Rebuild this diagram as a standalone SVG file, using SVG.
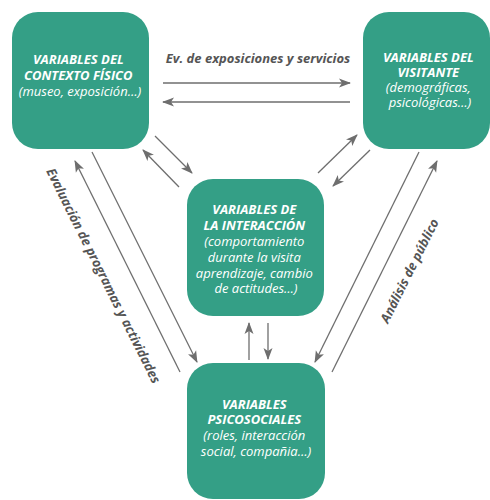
<svg xmlns="http://www.w3.org/2000/svg" width="490" height="500" viewBox="0 0 490 500">
  <defs>
    <marker id="arrow" markerUnits="userSpaceOnUse" markerWidth="12" markerHeight="10" viewBox="0 0 12 10" refX="11" refY="5" orient="auto">
      <path d="M0,0.5 L12,5 L0,9.5 L3,5 Z" fill="#6e6e6e"/>
    </marker>
    <style>
      .box { fill: #349f86; }
      .txt { font-family: "Open Sans", "Noto Sans", sans-serif; font-style: italic; font-size: 13px; fill: #ffffff; text-anchor: middle; }
      .b { font-weight: 700; }
      .r { font-weight: 400; }
      .conn { stroke: #6e6e6e; stroke-width: 1.3; fill: none; marker-end: url(#arrow); }
      .lbl { font-family: "Open Sans", "Noto Sans", sans-serif; font-weight: 700; font-style: italic; font-size: 13px; fill: #555555; text-anchor: middle; }
    </style>
  </defs>
  <rect width="490" height="500" fill="#ffffff"/>

  <g id="connectors">
    <line class="conn" x1="163" y1="83" x2="350" y2="83"/>
    <line class="conn" x1="350" y1="102" x2="163" y2="102"/>
    <line class="conn" x1="155" y1="136" x2="192" y2="173"/>
    <line class="conn" x1="179" y1="187" x2="143" y2="150"/>
    <line class="conn" x1="318" y1="173" x2="357" y2="135"/>
    <line class="conn" x1="370" y1="150" x2="333" y2="186"/>
    <line class="conn" x1="419" y1="152" x2="315" y2="362"/>
    <line class="conn" x1="332" y1="372" x2="437" y2="161"/>
    <line class="conn" x1="92" y1="152" x2="197" y2="362"/>
    <line class="conn" x1="180" y1="372" x2="75" y2="161"/>
    <line class="conn" x1="249" y1="360" x2="249" y2="323"/>
    <line class="conn" x1="268" y1="323" x2="268" y2="359"/>
    <text class="lbl" x="258" y="63">Ev. de exposiciones y servicios</text>
    <text class="lbl" transform="translate(410,271) rotate(-63.4)" x="0" y="4">Análisis de público</text>
    <text class="lbl" transform="translate(103,276) rotate(63.4)" x="0" y="4">Evaluación de programas y actividades</text>
  </g>

  <g id="contexto-fisico">
    <rect class="box" x="12" y="12" width="137" height="137" rx="26"/>
    <text class="txt">
      <tspan class="b" x="80" y="64">VARIABLES DEL</tspan>
      <tspan class="b" x="80" y="80">CONTEXTO FÍSICO</tspan>
      <tspan class="r" x="80" y="96">(museo, exposición…)</tspan>
    </text>
  </g>

  <g id="visitante">
    <rect class="box" x="363" y="12" width="127" height="137" rx="26"/>
    <text class="txt">
      <tspan class="b" x="430" y="62">VARIABLES DEL</tspan>
      <tspan class="b" x="430" y="77">VISITANTE</tspan>
      <tspan class="r" x="430" y="92">(demográficas,</tspan>
      <tspan class="r" x="430" y="107">psicológicas…)</tspan>
    </text>
  </g>

  <g id="interaccion">
    <rect class="box" x="187" y="179" width="137" height="137" rx="26"/>
    <text class="txt">
      <tspan class="b" x="256" y="214">VARIABLES DE</tspan>
      <tspan class="b" x="256" y="230">LA INTERACCIÓN</tspan>
      <tspan class="r" x="256" y="246">(comportamiento</tspan>
      <tspan class="r" x="256" y="262">durante la visita</tspan>
      <tspan class="r" x="256" y="278">aprendizaje, cambio</tspan>
      <tspan class="r" x="256" y="293">de actitudes…)</tspan>
    </text>
  </g>

  <g id="psicosociales">
    <rect class="box" x="187" y="363" width="138" height="136" rx="26"/>
    <text class="txt">
      <tspan class="b" x="256" y="409">VARIABLES</tspan>
      <tspan class="b" x="256" y="424">PSICOSOCIALES</tspan>
      <tspan class="r" x="256" y="440">(roles, interacción</tspan>
      <tspan class="r" x="256" y="456">social, compañia…)</tspan>
    </text>
  </g>
</svg>
